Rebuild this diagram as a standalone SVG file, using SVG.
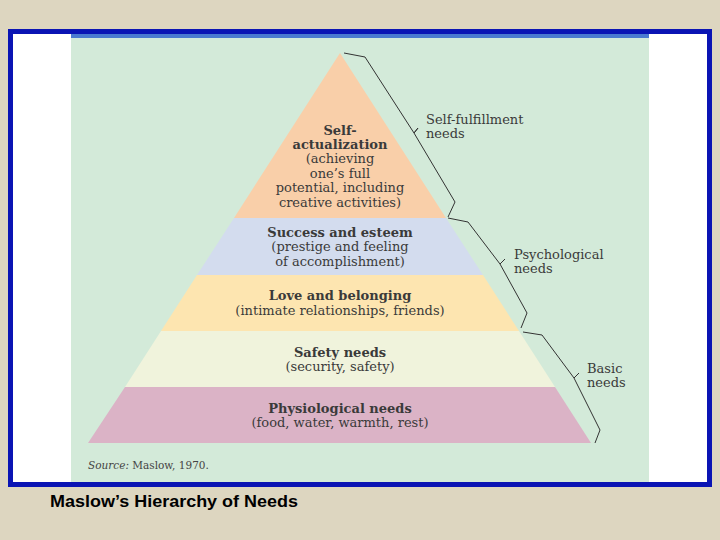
<svg xmlns="http://www.w3.org/2000/svg" width="720" height="540" viewBox="0 0 720 540">
<style>
.t{font-family:"DejaVu Serif",serif;font-size:13px;fill:#3a3a3a;text-anchor:middle}
.b{font-weight:bold}
.l{font-family:"DejaVu Serif",serif;font-size:13px;fill:#3a3a3a}
.br{fill:none;stroke:#333;stroke-width:1}
</style>
<rect width="720" height="540" fill="#ddd6c0"/>
<rect x="10.5" y="31.5" width="699" height="453" fill="#fff" stroke="#0a14b4" stroke-width="5"/>
<rect x="71" y="34" width="578" height="448" fill="#d3ead9"/>
<rect x="71" y="34" width="578" height="4" fill="#4a7ad0"/>
<g id="layer1"><polygon points="340,53 446,218 234,218" fill="#f9cfa9"/>
<text class="t b" x="340" y="135">Self-</text><text class="t b" x="340" y="149">actualization</text>
<text class="t" x="340" y="163">(achieving</text><text class="t" x="340" y="178">one’s full</text>
<text class="t" x="340" y="192">potential, including</text><text class="t" x="340" y="207">creative activities)</text></g>
<g id="layer2"><polygon points="234,218 446,218 483,275 197,275" fill="#d3dcee"/>
<text class="t b" x="340" y="237">Success and esteem</text><text class="t" x="340" y="251">(prestige and feeling</text><text class="t" x="340" y="266">of accomplishment)</text></g>
<g id="layer3"><polygon points="197,275 483,275 519,331 161,331" fill="#fde5b0"/>
<text class="t b" x="340" y="300">Love and belonging</text><text class="t" x="340" y="315">(intimate relationships, friends)</text></g>
<g id="layer4"><polygon points="161,331 519,331 555,387 125,387" fill="#f0f3dc"/>
<text class="t b" x="340" y="357">Safety needs</text><text class="t" x="340" y="371">(security, safety)</text></g>
<g id="layer5"><polygon points="125,387 555,387 591,443 88,443" fill="#dbb3c6"/>
<text class="t b" x="340" y="413">Physiological needs</text><text class="t" x="340" y="427">(food, water, warmth, rest)</text></g>
<g id="connectors">
<polyline class="br" points="344,53 365,57 414,133 418,128 414,133 455,202 448,217"/>
<polyline class="br" points="448,218 468,222 500,264 505,259 500,264 527,313 521,328"/>
<polyline class="br" points="523,332 542,335 574,378 579,373 574,378 600,430 595,443"/>
</g>
<text class="l" x="426" y="124">Self-fulfillment</text><text class="l" x="426" y="138">needs</text>
<text class="l" x="514" y="259">Psychological</text><text class="l" x="514" y="273">needs</text>
<text class="l" x="587" y="373">Basic</text><text class="l" x="587" y="387">needs</text>
<text x="88" y="469" font-family="DejaVu Serif,serif" font-size="10.5" fill="#444"><tspan font-style="italic">Source:</tspan> Maslow, 1970.</text>
<text x="50" y="507" font-family="Liberation Sans,Arial,sans-serif" font-size="17" font-weight="bold" fill="#000" textLength="248" lengthAdjust="spacingAndGlyphs">Maslow’s Hierarchy of Needs</text>
</svg>
